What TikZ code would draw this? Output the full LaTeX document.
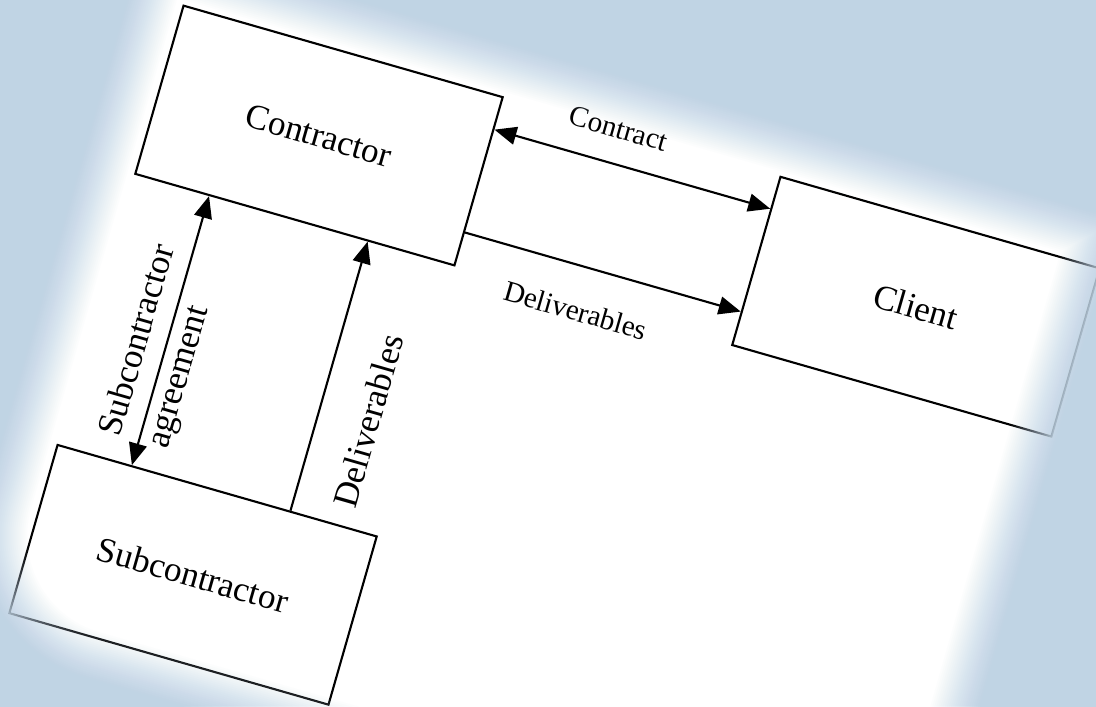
\documentclass[tikz,border=0pt]{standalone}
\usepackage{fontspec}
\setmainfont{Liberation Serif}
\usetikzlibrary{arrows.meta,calc}

\definecolor{bgblue}{RGB}{192,212,228}

\begin{document}
\begin{tikzpicture}[
  box/.style={draw, line width=0.6pt, fill=white, minimum width=3.32cm, minimum height=1.75cm, font=\fontsize{10}{12}\selectfont},
  lbl/.style={inner sep=0pt, font=\fontsize{8.3}{10}\selectfont},
  vlbl/.style={inner sep=0pt, font=\fontsize{10}{12}\selectfont},
  >={Triangle[length=2.2mm,width=1.8mm]}
]
\useasboundingbox (-3.19,-5.705) rectangle (7.77,1.355);
\fill[white] (-3.19,-5.705) rectangle (7.77,1.355);

\begin{scope}[rotate=-16, transform shape]
% cajas
\node[box] (contractor) at (0,0) {Contractor};
\node[box] (client) at (6.21,0) {Client};
\node[box] (sub) at (0,-4.57) {Subcontractor};

\draw[<->, line width=0.6pt] ($(contractor.east)+(0,0.54)$) -- ($(client.west)+(0,0.54)$) node[lbl, pos=0.415, above=0.245cm] {Contract};
\draw[->, line width=0.6pt] ($(contractor.east)+(0,-0.53)$) -- ($(client.west)+(0,-0.53)$) node[lbl, pos=0.446, below=0.33cm] {Deliverables};

\draw[<->, line width=0.6pt] ($(sub.north)+(-0.89,0)$) -- ($(contractor.south)+(-0.89,0)$)
	node[vlbl, pos=0.434, xshift=-0.31cm, rotate=90] {Subcontractor}
	node[vlbl, pos=0.349, xshift=0.24cm, rotate=90] {agreement};
\draw[->, line width=0.6pt] ($(sub.north)+(0.76,0)$) -- ($(contractor.south)+(0.76,0)$) node[vlbl, pos=0.385, xshift=0.5cm, rotate=90] {Deliverables};

% borde difuso de la hoja
\foreach \i [evaluate=\i as \off using \i*0.02, evaluate=\i as \op using 1/(25-\i)] in {0,...,24}
  \fill[bgblue, opacity=\op, even odd rule] (-5,-8) rectangle (11,5)
    (-1.74-\off,0.93+\off) -- (7.45+\off,0.93+\off) -- (7.45+\off,-5.38-\off)
    -- (-0.74,-5.38-\off) arc[start angle=270, end angle=180, radius=1.0+\off] -- cycle;
\end{scope}
\end{tikzpicture}
\end{document}
